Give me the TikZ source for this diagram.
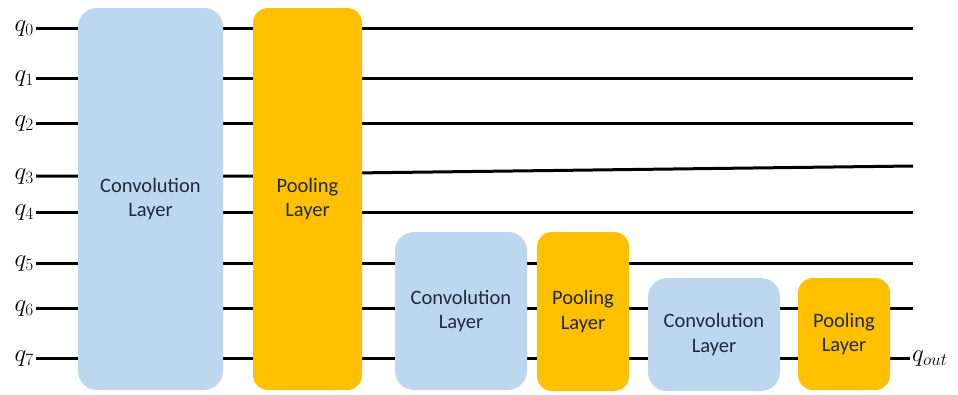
\documentclass[tikz,border=0pt]{standalone}
\usepackage{fontspec}
\setmainfont{Carlito}
\usetikzlibrary{backgrounds}
\definecolor{convblue}{HTML}{BDD7EE}
\definecolor{poolgold}{HTML}{FFC000}
\definecolor{labeltext}{HTML}{1F2A3C}
\tikzset{
  layerbox/.style={draw=none, align=center, text=labeltext, inner sep=0pt,
    font=\fontsize{20.5}{24.5}\selectfont},
  convbox/.style={layerbox, fill=convblue, rounded corners=19pt},
  poolbox/.style={layerbox, fill=poolgold, rounded corners=15pt},
  wire/.style={line width=3pt, black},
  qlabel/.style={inner sep=2pt, font=\fontsize{24}{28}\selectfont},
}
\begin{document}
\begin{tikzpicture}[x=1pt, y=-1pt]
\useasboundingbox (0,0) rectangle (958,394);

% layer blocks
\node[convbox, minimum width=145pt, minimum height=382pt] (c1) at (150.5,199) {Convolution\\Layer};
\node[poolbox, minimum width=109pt, minimum height=382pt] (p1) at (307.5,199) {Pooling\\Layer};
\node[convbox, minimum width=132pt, minimum height=158pt] (c2) at (461,311) {Convolution\\Layer};
\node[poolbox, minimum width=92pt, minimum height=159pt] (p2) at (583,311.5) {Pooling\\Layer};
\node[convbox, minimum width=132pt, minimum height=113pt] (c3) at (714,334.5) {Convolution\\Layer};
\node[poolbox, minimum width=92pt, minimum height=112pt] (p3) at (844,334) {Pooling\\Layer};

% wire end points
\foreach \i/\y in {0/28,1/78,2/123,3/176,4/212,5/263,6/308,7/358}{
  \coordinate (in\i) at (36,\y);
  \node[qlabel, anchor=east] (lab\i) at ([yshift=-1pt]in\i) {$q_{\i}$};
}
\foreach \i/\y in {0/28,1/78,2/123,3/166,4/212,5/263,6/308}{
  \coordinate (out\i) at (913,\y);
}
\coordinate (out7) at (910,358);
\node[qlabel, anchor=west] (qout) at ([yshift=-1pt]out7) {$q_{out}$};

\begin{scope}[on background layer]
  % qubit wires, hidden where they pass under a block
  \foreach \i in {0,1,2,4,5,6,7}{
    \draw[wire] (in\i) -- (out\i);
  }
  % q3 leaves the first pooling layer slightly raised
  \draw[wire] (in3) -- ([xshift=-10pt]p1.east |- in3) -- ([xshift=-10pt,yshift=-7pt]p1.east |- out3) -- (out3);
\end{scope}
\end{tikzpicture}
\end{document}
